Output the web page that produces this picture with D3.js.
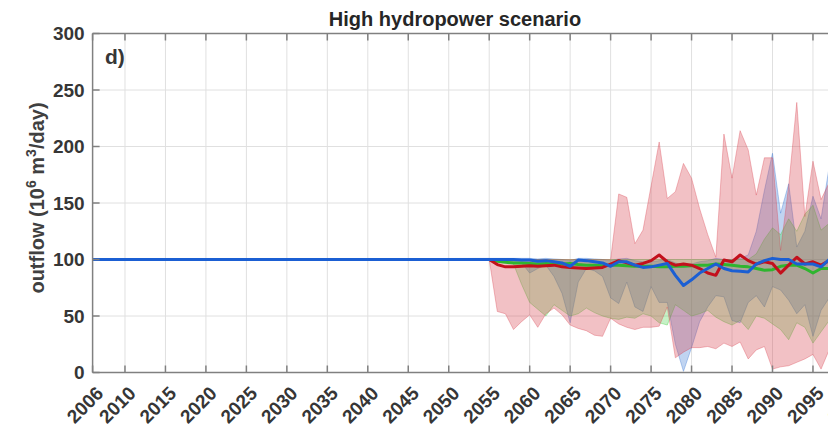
<!DOCTYPE html>
<html>
<head>
<meta charset="utf-8">
<script src="https://cdn.jsdelivr.net/npm/d3@7"></script>
<style>
  html, body { margin: 0; padding: 0; background: #fff; }
  svg { display: block; font-family: "Liberation Sans", Arial, sans-serif; }
</style>
</head>
<body>
<svg id="chart" width="828" height="427"></svg>
<script>
// ---- data ----
const years = [2006, 2055, 2056, 2057, 2058, 2059, 2060, 2061, 2062, 2063, 2064, 2065, 2066, 2067, 2068, 2069, 2070, 2071, 2072, 2073, 2074, 2075, 2076, 2077, 2078, 2079, 2080, 2081, 2082, 2083, 2084, 2085, 2086, 2087, 2088, 2089, 2090, 2091, 2092, 2093, 2094, 2095, 2096, 2097];

const redMed   = [100, 100, 95.5, 93.5, 93.5, 94, 94.5, 94, 94.5, 95, 93.5, 93, 92.5, 92, 92.5, 93, 96, 99, 97, 95, 96.5, 99, 104, 98, 95, 96, 95, 92, 88, 86, 99.5, 98, 104, 99, 96, 98, 96.5, 88, 95, 102, 96, 98, 95, 99];
const redLow   = [100, 100, 54, 52, 38, 45, 51, 40, 52, 57, 51, 42, 39, 37, 33, 32, 48, 43, 40, 38, 40, 40, 41, 58, 13, 18, 22, 22, 23, 21, 26, 23, 27, 12, 20, 23, 3, 5, 6, 9, 12, 16, 3, 20];
const redUp    = [100, 100, 100, 100, 100, 100, 100, 100, 100, 100, 100, 100, 100, 100, 100, 100, 100, 158, 155, 114, 126, 165, 204, 154, 160, 185, 172, 145, 122, 102, 211, 172, 214, 197, 157, 190, 190, 108, 165, 239, 138, 187, 153, 168];

const greenMed = [100, 100, 98.5, 97.5, 97, 97, 96.5, 96, 96.5, 96, 96, 96.5, 95.5, 95, 95, 94.5, 95, 95, 94.5, 94, 94, 94, 93.5, 93.5, 94, 94, 94.5, 95, 95, 96, 95.5, 95, 94, 93.5, 92, 90.5, 91, 94, 95, 95, 92, 88, 92, 92];
const greenLow = [100, 100, 100, 99, 96, 78, 62, 56, 50, 60, 55, 50, 52, 57, 53, 50, 48, 47, 49, 48, 52, 50, 44, 42, 60, 55, 50, 52, 55, 49, 45, 42, 46, 38, 50, 48, 43, 38, 29, 44, 40, 26, 36, 46];
const greenUp  = [100, 100, 100, 100, 100, 100, 100, 100, 100, 100, 100, 100, 100, 100, 100, 100, 100, 100, 100, 100, 100, 100, 100, 100, 100, 100, 100, 100, 100, 100, 100, 100, 100, 100, 105, 118, 128, 122, 136, 125, 140, 148, 126, 132];

const blueMed  = [100, 100, 100, 100, 100, 99.5, 99.5, 98.5, 99, 98, 97, 94, 99.5, 99, 98, 97, 94, 98, 98, 95, 93, 93.5, 95, 96.5, 86, 77, 82, 88, 92, 96, 92, 90, 89.5, 89, 96, 99, 101, 100, 100, 96, 96, 96, 93.5, 100];
const blueLow  = [100, 100, 100, 99, 98, 97, 88, 92, 95, 85, 70, 44, 80, 92, 90, 85, 66, 61, 80, 58, 54, 76, 62, 62, 25, 1, 22, 45, 58, 68, 67, 46, 44, 62, 68, 58, 76, 73, 64, 52, 60, 32, 55, 66];
const blueUp   = [100, 101, 101, 101, 101, 101, 101, 100.5, 101, 100.5, 100, 99, 101, 101, 100.5, 100, 99, 100.5, 101, 99, 98, 98, 99, 100, 97, 95, 96, 98, 99, 101, 100, 100, 101, 104, 125, 161, 194, 141, 167, 111, 125, 156, 136, 182];

const xTicks = [2006, 2010, 2015, 2020, 2025, 2030, 2035, 2040, 2045, 2050, 2055, 2060, 2065, 2070, 2075, 2080, 2085, 2090, 2095, 2100];
const yTicks = [0, 50, 100, 150, 200, 250, 300];
const titleText = "High hydropower scenario";
const panelLabel = "d)";

(function () {
// ---- layout ----
const svg = d3.select("#chart");
const pLeft = 92.6, pTop = 33.5, pBottom = 372.5;
const x = d3.scaleLinear().domain([2006, 2100]).range([pLeft, pLeft + 94 * 8.094]);
const y = d3.scaleLinear().domain([0, 300]).range([pBottom, pTop]);
const pRight = x(2100);
const textCol = "#363636";
const axisCol = "#808080";

svg.append("rect").attr("width", 828).attr("height", 427).attr("fill", "#fff");

// grid
const grid = svg.append("g");
grid.selectAll("line.vg").data(xTicks.filter(d => d !== 2006)).enter().append("line")
  .attr("x1", d => x(d)).attr("x2", d => x(d)).attr("y1", pTop).attr("y2", pBottom)
  .attr("stroke", "#e0e0e0").attr("stroke-width", 1);
grid.selectAll("line.hg").data(yTicks.filter(d => d > 0 && d < 300)).enter().append("line")
  .attr("x1", pLeft).attr("x2", pRight).attr("y1", d => y(d)).attr("y2", d => y(d))
  .attr("stroke", "#e0e0e0").attr("stroke-width", 1);

// bands
const idx = d3.range(years.length);
function band(lo, hi, color, fop) {
  const area = d3.area().x(i => x(years[i])).y0(i => y(lo[i])).y1(i => y(hi[i]));
  svg.append("path").attr("d", area(idx))
    .attr("fill", color).attr("fill-opacity", fop)
    .attr("stroke", color).attr("stroke-opacity", 0.35).attr("stroke-width", 1);
}
band(blueLow, blueUp, "#3070d0", 0.3);
band(greenLow, greenUp, "#33cc33", 0.28);
band(redLow, redUp, "#d9434f", 0.33);

// median lines
function line(vals, color) {
  const l = d3.line().x(i => x(years[i])).y(i => y(vals[i]));
  svg.append("path").attr("d", l(idx)).attr("fill", "none")
    .attr("stroke", color).attr("stroke-width", 3).attr("stroke-linejoin", "round");
}
line(greenMed, "#2fb52f");
line(redMed, "#c3101c");
line(blueMed, "#1b5fd3");

// axes box
const ax = svg.append("g");
ax.append("line").attr("x1", pLeft).attr("x2", pRight).attr("y1", pBottom).attr("y2", pBottom).attr("stroke", axisCol).attr("stroke-width", 1.5);
ax.append("line").attr("x1", pLeft).attr("x2", pRight).attr("y1", pTop).attr("y2", pTop).attr("stroke", axisCol).attr("stroke-width", 1.5);
ax.append("line").attr("x1", pLeft).attr("x2", pLeft).attr("y1", pTop).attr("y2", pBottom).attr("stroke", axisCol).attr("stroke-width", 1.5);

// x ticks (inward, bottom and top)
ax.selectAll("line.xtb").data(xTicks).enter().append("line")
  .attr("x1", d => x(d)).attr("x2", d => x(d)).attr("y1", pBottom).attr("y2", pBottom - 7)
  .attr("stroke", axisCol).attr("stroke-width", 1.5);
ax.selectAll("line.xtt").data(xTicks).enter().append("line")
  .attr("x1", d => x(d)).attr("x2", d => x(d)).attr("y1", pTop).attr("y2", pTop + 7)
  .attr("stroke", axisCol).attr("stroke-width", 1.5);
// y ticks
ax.selectAll("line.yt").data(yTicks).enter().append("line")
  .attr("x1", pLeft).attr("x2", pLeft + 7).attr("y1", d => y(d)).attr("y2", d => y(d))
  .attr("stroke", axisCol).attr("stroke-width", 1.5);

// x tick labels
svg.selectAll("text.xl").data(xTicks).enter().append("text")
  .attr("transform", d => `translate(${x(d) + 12},${pBottom + 22}) rotate(-45)`)
  .attr("text-anchor", "end")
  .attr("font-size", 19).attr("font-weight", "bold").attr("fill", textCol)
  .text(d => d);

// y tick labels
svg.selectAll("text.yl").data(yTicks).enter().append("text")
  .attr("x", pLeft - 8).attr("y", d => y(d)).attr("dy", "0.35em")
  .attr("text-anchor", "end")
  .attr("font-size", 19).attr("font-weight", "bold").attr("fill", textCol)
  .text(d => d);

// y axis label
const yl = svg.append("text")
  .attr("transform", `translate(44,198) rotate(-90)`)
  .attr("text-anchor", "middle")
  .attr("font-size", 20).attr("font-weight", "bold").attr("fill", "#404040");
yl.append("tspan").text("outflow (10");
yl.append("tspan").attr("font-size", 14).attr("dy", -8).text("6");
yl.append("tspan").attr("dy", 8).text(" m");
yl.append("tspan").attr("font-size", 14).attr("dy", -8).text("3");
yl.append("tspan").attr("dy", 8).text("/day)");

// title
svg.append("text").attr("x", 455).attr("y", 26).attr("text-anchor", "middle")
  .attr("font-size", 20).attr("font-weight", "bold").attr("fill", "#262626")
  .text(titleText);

// panel label
svg.append("text").attr("x", 105).attr("y", 64)
  .attr("font-size", 21).attr("font-weight", "bold").attr("fill", textCol)
  .text(panelLabel);
})();
</script>
</body>
</html>
